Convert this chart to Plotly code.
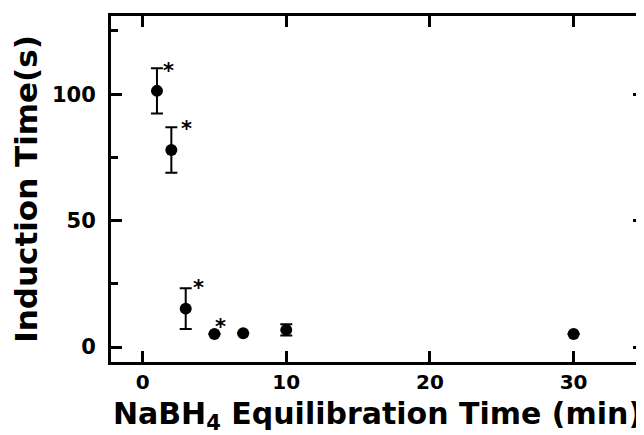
import plotly.graph_objects as go

# Data
eq_time = [1, 2, 3, 5, 7, 10, 30]
induction = [101.3, 77.9, 15.2, 5.2, 5.5, 6.8, 5.2]
err = [8.9, 9.0, 8.1, 0.0, 0.0, 2.2, 0.0]

# significance asterisks (positions, data units)
ast_x = [1.8, 3.05, 3.92, 5.39]
ast_y = [110.8, 88.0, 25.1, 9.5]

FONT = "DejaVu Sans"

fig = go.Figure()
fig.add_trace(go.Scatter(
    x=eq_time, y=induction, mode="markers",
    marker=dict(color="black", size=12, symbol="circle"),
    error_y=dict(type="data", array=err, visible=True, color="black",
                 thickness=2, width=6),
    showlegend=False,
))

for ax_, ay_ in zip(ast_x, ast_y):
    fig.add_annotation(x=ax_, y=ay_, text="<b>*</b>", showarrow=False,
                       xanchor="center", yanchor="middle", yshift=-4,
                       font=dict(family=FONT, size=21, color="black"))

axis_common = dict(
    showline=True, linecolor="black", linewidth=3, mirror="ticks",
    ticks="inside", tickcolor="black", tickwidth=3, ticklen=11,
    showgrid=False, zeroline=False, automargin=False,
)

fig.update_xaxes(
    range=[-2.2, 34.9], tickvals=[0, 10, 20, 30], ticktext=["0", "10", "20", "30"],
    ticklabelstandoff=0,
    tickfont=dict(family=FONT, size=20, color="black", weight="bold"),
    title=dict(text="NaBH<sub>4</sub> Equilibration Time (min)",
               font=dict(family=FONT, size=30, color="black", weight="bold"), standoff=14),
    **axis_common,
)
fig.update_yaxes(
    range=[-5.9, 130.9], tickvals=[0, 50, 100], ticktext=["0", "50", "100"],
    minor=dict(tickvals=[25, 75, 125], ticks="inside", ticklen=7, tickwidth=3, tickcolor="black"),
    ticklabelstandoff=8,
    tickfont=dict(family=FONT, size=21, color="black", weight="bold"),
    title=dict(text="Induction Time(s)",
               font=dict(family=FONT, size=31, color="black", weight="bold"), standoff=6),
    **axis_common,
)

# page body adds an 8px offset; size the figure so the plot area lands where the reference has it
fig.update_layout(
    width=636, height=427, autosize=False,
    margin=dict(l=103, r=0, t=8, b=73),
    plot_bgcolor="white", paper_bgcolor="white",
)

fig.write_html("out.html")
